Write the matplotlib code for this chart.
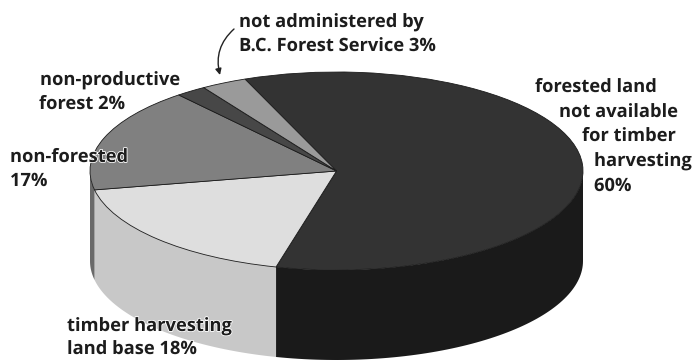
import numpy as np
import matplotlib
matplotlib.use('Agg')
import matplotlib.pyplot as plt
import matplotlib.patheffects as pe

# land base shares, clockwise from the big forested slice
shares = [60, 18, 17, 2, 3]
top_colors = ['#333333', '#dedede', '#808080', '#474747', '#9a9a9a']
wall_colors = ['#1a1a1a', '#c8c8c8', '#6a6a6a', '#474747', '#9a9a9a']

# pie top ellipse, in pixels
cx, cy = 336.5, 171
rx, ry = 246.5, 99
depth = 90
start_from_top = -21.8

fig = plt.figure(figsize=(6.96, 3.6), dpi=100)
ax = fig.add_axes([0, 0, 1, 1])

ax.pie(shares, colors=top_colors, startangle=90 - start_from_top, counterclock=False,
       wedgeprops={'edgecolor': '#1a1a1a', 'linewidth': 0.6, 'zorder': 3})

# side wall, only the front half of the rim shows
edges = start_from_top + np.cumsum([0] + shares) * 3.6
for i in range(len(shares)):
    a = max(edges[i], 90)
    b = min(edges[i + 1], 270)
    if a >= b:
        continue
    t = np.radians(np.linspace(a, b, 80))
    x = np.sin(t)
    y = np.cos(t)
    wall_x = np.concatenate([x, x[::-1]])
    wall_y = np.concatenate([y, y[::-1] - depth / ry])
    ax.fill(wall_x, wall_y, color=wall_colors[i], zorder=2, linewidth=0)

ax.set_aspect('auto')
ax.set_xlim((0 - cx) / rx, (696 - cx) / rx)
ax.set_ylim((cy - 360) / ry, cy / ry)
ax.axis('off')

# labels are placed line by line, the right one steps along the rim
label_lines = [
    (239, 22, 'not administered by'),
    (239, 46, 'B.C. Forest Service 3%'),
    (40, 80, 'non-productive'),
    (39, 104, 'forest 2%'),
    (10, 157, 'non-forested'),
    (10, 181, '17%'),
    (67, 326, 'timber harvesting'),
    (67, 349, 'land base 18%'),
    (535, 87, 'forested land'),
    (559, 112, 'not available'),
    (582, 136, 'for timber'),
    (594, 161, 'harvesting'),
    (594, 186, '60%'),
]
halo = [pe.withStroke(linewidth=1.2, foreground='white')]
for px, py, line in label_lines:
    fig.text(px / 696, 1 - py / 360, line, fontsize=13.2, family='Open Sans', fontweight='bold',
             color='#1c1c1c', ha='left', va='center', zorder=5, path_effects=halo)

ax.annotate('', xy=(220 / 696, 1 - 75 / 360), xytext=(234 / 696, 1 - 29 / 360),
            xycoords='figure fraction', textcoords='figure fraction',
            arrowprops=dict(arrowstyle='-|>', color='#222222', lw=1.0, mutation_scale=9,
                            connectionstyle='arc3,rad=0.3', shrinkA=0, shrinkB=0))

fig.savefig('out.png', dpi=100)
